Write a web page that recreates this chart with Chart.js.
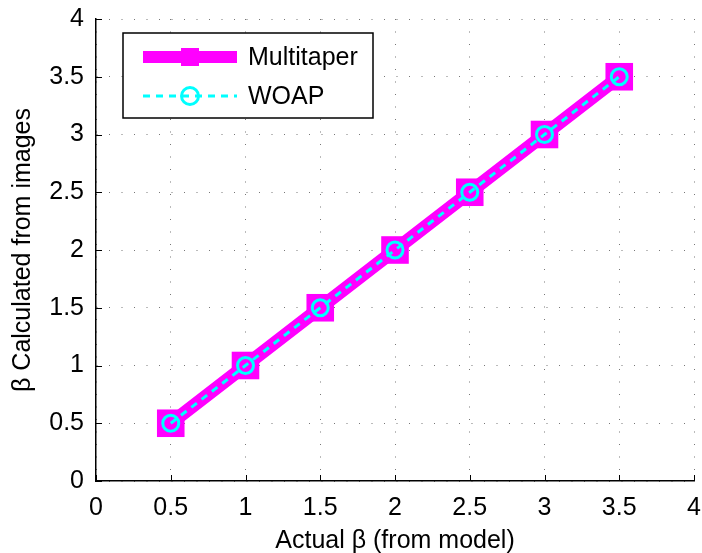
<!DOCTYPE html>
<html>
<head>
<meta charset="utf-8">
<style>
  html, body { margin: 0; padding: 0; background: #fff; }
  canvas { display: block; }
</style>
<script src="https://cdn.jsdelivr.net/npm/chart.js@4/dist/chart.umd.min.js"></script>
</head>
<body>
<canvas id="c" width="702" height="553"></canvas>
<script>
// Actual beta used by the model, and the beta recovered from the images
const actualBeta = [0.5, 1, 1.5, 2, 2.5, 3, 3.5];
const multitaperBeta = [0.5, 1, 1.5, 2, 2.5, 3, 3.5];
const woapBeta = [0.5, 1, 1.5, 2, 2.5, 3, 3.5];

// Tick values and their labels (same for both axes)
const tickValues = [0, 0.5, 1, 1.5, 2, 2.5, 3, 3.5, 4];
const tickLabels = ['0', '0.5', '1', '1.5', '2', '2.5', '3', '3.5', '4'];

const seriesNames = ['Multitaper', 'WOAP'];
const xTitle = 'Actual \u03B2 (from model)';
const yTitle = '\u03B2 Calculated from images';

const FONT = '"Liberation Sans", Arial, Helvetica, sans-serif';
const TICK_SIZE = 25;
const LABEL_SIZE = 25;
const MAGENTA = '#ff00ff';
const CYAN = '#00ffff';

const toPoints = (ys) => actualBeta.map((x, i) => ({ x: x, y: ys[i] }));
const labelFor = (v) => {
  const i = tickValues.indexOf(v);
  return i >= 0 ? tickLabels[i] : '';
};

// Inward tick marks, axis titles and the legend box
const decorations = {
  id: 'decorations',
  afterDraw(chart) {
    const ctx = chart.ctx;
    const xs = chart.scales.x, ys = chart.scales.y;
    const area = chart.chartArea;
    ctx.save();
    ctx.strokeStyle = '#000';
    ctx.lineWidth = 1;
    ctx.beginPath();
    tickValues.forEach(v => {
      const px = Math.round(xs.getPixelForValue(v)) + 0.5;
      ctx.moveTo(px, area.bottom);
      ctx.lineTo(px, area.bottom - 6);
      const py = Math.round(ys.getPixelForValue(v)) + 0.5;
      ctx.moveTo(area.left, py);
      ctx.lineTo(area.left + 6, py);
    });
    ctx.stroke();

    // axis titles
    ctx.fillStyle = '#000';
    ctx.font = LABEL_SIZE + 'px ' + FONT;
    ctx.textAlign = 'center';
    ctx.textBaseline = 'middle';
    ctx.fillText(xTitle, (area.left + area.right) / 2, 541);
    ctx.translate(23, (area.top + area.bottom) / 2);
    ctx.rotate(-Math.PI / 2);
    ctx.fillText(yTitle, 0, 0);
    ctx.restore();

    // legend
    ctx.save();
    const bx = 123, by = 33, bw = 250, bh = 85;
    ctx.fillStyle = '#fff';
    ctx.fillRect(bx, by, bw, bh);
    ctx.strokeStyle = '#000';
    ctx.lineWidth = 1.5;
    ctx.strokeRect(bx, by, bw, bh);

    const lx0 = 143, lx1 = 237, mx = 190;
    const y1 = 57, y2 = 96;
    // Multitaper sample
    ctx.strokeStyle = MAGENTA;
    ctx.lineWidth = 12;
    ctx.beginPath();
    ctx.moveTo(lx0, y1); ctx.lineTo(lx1, y1);
    ctx.stroke();
    ctx.fillStyle = MAGENTA;
    ctx.fillRect(mx - 9, y1 - 9, 18, 18);
    // WOAP sample
    ctx.strokeStyle = CYAN;
    ctx.lineWidth = 3;
    ctx.setLineDash([7, 6]);
    ctx.beginPath();
    ctx.moveTo(lx0, y2); ctx.lineTo(lx1, y2);
    ctx.stroke();
    ctx.setLineDash([]);
    ctx.beginPath();
    ctx.arc(mx, y2, 8.5, 0, Math.PI * 2);
    ctx.stroke();

    ctx.fillStyle = '#000';
    ctx.font = LABEL_SIZE + 'px ' + FONT;
    ctx.textAlign = 'left';
    ctx.textBaseline = 'middle';
    ctx.fillText(seriesNames[0], 248, y1 + 1);
    ctx.fillText(seriesNames[1], 248, y2 + 1);
    ctx.restore();
  }
};

const gridOpts = { color: '#777', lineWidth: 1, drawTicks: false };
const borderOpts = { display: true, color: '#000', width: 1.5, dash: [1, 11.5] };

new Chart(document.getElementById('c'), {
  type: 'scatter',
  data: {
    datasets: [
      {
        label: seriesNames[0],
        data: toPoints(multitaperBeta),
        showLine: true,
        borderColor: MAGENTA,
        backgroundColor: MAGENTA,
        borderWidth: 13,
        pointStyle: 'rect',
        pointRadius: 19.5,
        pointBorderWidth: 0,
        pointBackgroundColor: MAGENTA,
        order: 2
      },
      {
        label: seriesNames[1],
        data: toPoints(woapBeta),
        showLine: true,
        borderColor: CYAN,
        borderWidth: 3,
        borderDash: [7, 6],
        pointStyle: 'circle',
        pointRadius: 8,
        pointBorderWidth: 3,
        pointBorderColor: CYAN,
        pointBackgroundColor: 'rgba(0,0,0,0)',
        order: 1
      }
    ]
  },
  options: {
    responsive: false,
    devicePixelRatio: 1,
    animation: false,
    layout: { autoPadding: false, padding: { left: 0, top: 19, right: 8, bottom: 0 } },
    plugins: { legend: { display: false }, tooltip: { enabled: false } },
    scales: {
      x: {
        type: 'linear',
        min: 0, max: 4,
        afterBuildTicks(s) { s.ticks = tickValues.map(v => ({ value: v })); },
        afterFit(s) { s.height = 72; s.paddingLeft = 0; s.paddingRight = 0; },
        ticks: {
          color: '#000',
          font: { family: FONT, size: TICK_SIZE },
          padding: 12,
          maxRotation: 0,
          callback: (v) => labelFor(v)
        },
        grid: gridOpts,
        border: borderOpts
      },
      y: {
        type: 'linear',
        min: 0, max: 4,
        afterBuildTicks(s) { s.ticks = tickValues.map(v => ({ value: v })); },
        afterFit(s) { s.width = 96; s.paddingTop = 0; s.paddingBottom = 0; },
        ticks: {
          color: '#000',
          font: { family: FONT, size: TICK_SIZE },
          padding: 12,
          callback: (v) => labelFor(v)
        },
        grid: gridOpts,
        border: borderOpts
      }
    }
  },
  plugins: [decorations]
});
</script>
</body>
</html>
